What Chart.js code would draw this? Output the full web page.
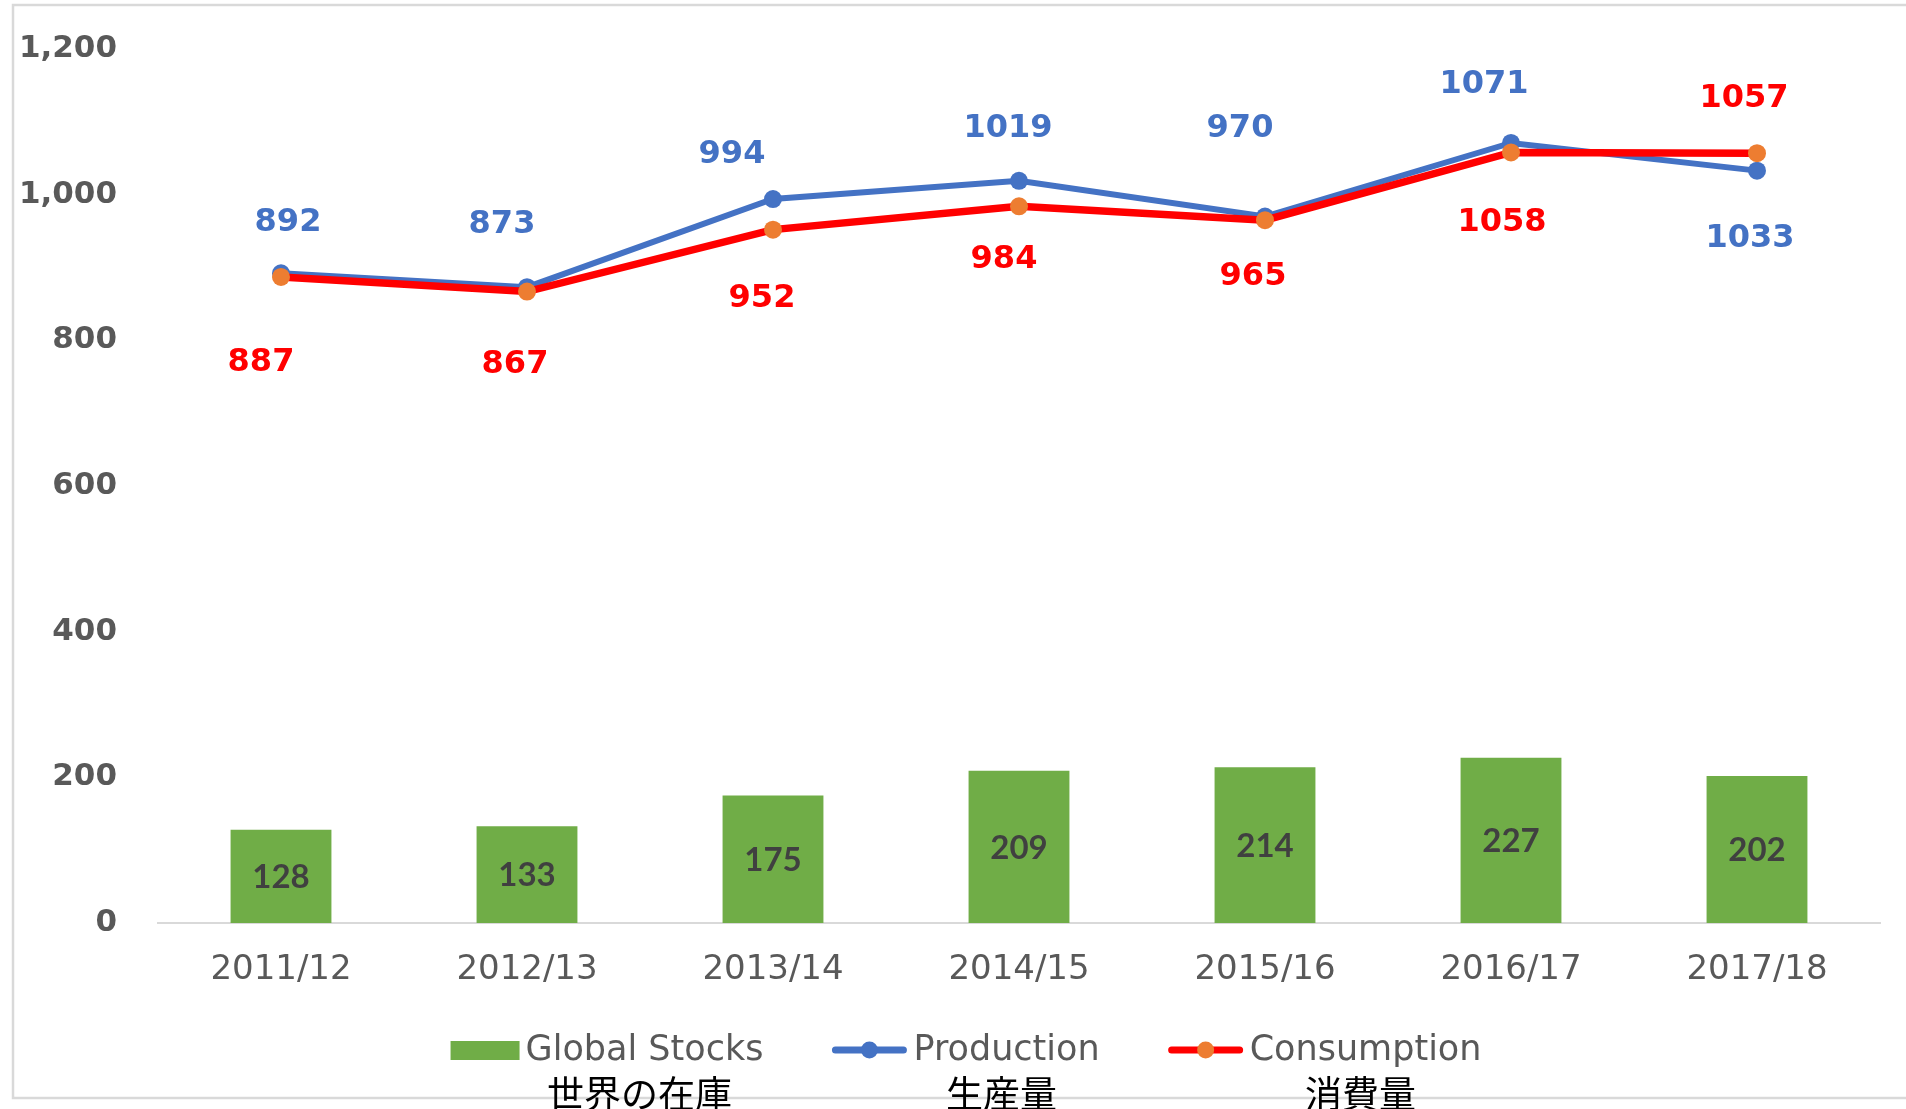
<!DOCTYPE html>
<html>
<head>
<meta charset="utf-8">
<script src="https://cdn.jsdelivr.net/npm/chart.js@4.4.0/dist/chart.umd.min.js"></script>
<style>
  html, body { margin: 0; padding: 0; background: #fff; overflow: hidden; }
  #wrap { position: relative; width: 1906px; height: 1109px; }
</style>
</head>
<body>
<div id="wrap"><canvas id="chart" width="1906" height="1109"></canvas></div>
<script>
// Data
const seasons = ['2011/12', '2012/13', '2013/14', '2014/15', '2015/16', '2016/17', '2017/18'];
const globalStocks = [128, 133, 175, 209, 214, 227, 202];
const production = [892, 873, 994, 1019, 970, 1071, 1033];
const consumption = [887, 867, 952, 984, 965, 1058, 1057];
const yTicks = [0, 200, 400, 600, 800, 1000, 1200];
const legendJa = ['世界の在庫', '生産量', '消費量'];

// label nudges in px (dx, dy) from each point, like the hand-placed labels in the original
const prodLabelShift = [[7, -51], [-25, -62], [-41, -44], [-11, -52], [-25, -88], [-27, -58], [-7, 68]];
const consLabelShift = [[-20, 86], [-12, 73], [-11, 69], [-15, 53], [-12, 57], [-9, 70], [-13, -54]];

const GRAY = '#595959';

// outer frame, drawn first so the Japanese captions sit on top of it
const framePlugin = {
    id: 'frame',
    beforeDraw(chart) {
        const ctx = chart.ctx;
        ctx.save();
        ctx.fillStyle = '#fff';
        ctx.fillRect(0, 0, chart.width, chart.height);
        ctx.strokeStyle = '#d9d9d9';
        ctx.lineWidth = 2.5;
        ctx.strokeRect(13, 5, 2000, 1093);
        ctx.restore();
    }
};

// value labels for bars and both lines
const valueLabels = {
    id: 'valueLabels',
    afterDatasetsDraw(chart) {
        const ctx = chart.ctx;
        ctx.save();
        ctx.textAlign = 'center';
        ctx.textBaseline = 'middle';

        const barMeta = chart.getDatasetMeta(0);
        ctx.font = 'bold 33px Lato';
        ctx.fillStyle = '#404040';
        barMeta.data.forEach((bar, i) => {
            ctx.fillText(globalStocks[i], bar.x, (bar.y + bar.base) / 2 + 1);
        });

        ctx.font = 'bold 32px "DejaVu Sans"';
        const prodMeta = chart.getDatasetMeta(1);
        ctx.fillStyle = '#4472c4';
        prodMeta.data.forEach((pt, i) => {
            ctx.fillText(production[i], pt.x + prodLabelShift[i][0], pt.y + prodLabelShift[i][1]);
        });

        const consMeta = chart.getDatasetMeta(2);
        ctx.fillStyle = '#ff0000';
        consMeta.data.forEach((pt, i) => {
            ctx.fillText(consumption[i], pt.x + consLabelShift[i][0], pt.y + consLabelShift[i][1]);
        });
        ctx.restore();
    }
};

// legend row plus the Japanese caption under each entry
const legendRow = {
    id: 'legendRow',
    afterDraw(chart) {
        const ctx = chart.ctx;
        const textGap = 6, itemGap = 68;
        const y = 1050;
        const legendFont = '35px "DejaVu Sans"';
        ctx.save();
        ctx.font = legendFont;
        const items = chart.data.datasets.map(ds => {
            const tw = ctx.measureText(ds.label).width;
            const sw = ds.type === 'bar' ? 69 : 76;
            return { ds, tw, sw, w: sw + textGap + tw };
        });
        const total = items.reduce((s, it) => s + it.w, 0) + itemGap * (items.length - 1);
        let x = 966 - total / 2;

        items.forEach((it, i) => {
            const ds = it.ds;
            if (ds.type === 'bar') {
                ctx.fillStyle = ds.backgroundColor;
                ctx.fillRect(x, y - 9, it.sw, 19);
            } else {
                ctx.strokeStyle = ds.borderColor;
                ctx.lineWidth = 7;
                ctx.lineCap = 'round';
                ctx.beginPath();
                ctx.moveTo(x + 4, y);
                ctx.lineTo(x + it.sw - 4, y);
                ctx.stroke();
                ctx.fillStyle = ds.pointBackgroundColor;
                ctx.beginPath();
                ctx.arc(x + it.sw / 2, y, 8.5, 0, Math.PI * 2);
                ctx.fill();
            }
            ctx.font = legendFont;
            ctx.fillStyle = GRAY;
            ctx.textAlign = 'left';
            ctx.textBaseline = 'middle';
            const tx = x + it.sw + textGap;
            ctx.fillText(ds.label, tx, y + 1);

            ctx.font = '37px "Noto Sans CJK JP"';
            ctx.fillStyle = '#000';
            ctx.textAlign = 'center';
            ctx.fillText(legendJa[i], tx + it.tw / 2 - 5, 1094);

            x += it.w + itemGap;
        });
        ctx.restore();
    }
};

new Chart(document.getElementById('chart').getContext('2d'), {
    type: 'bar',
    data: {
        labels: seasons,
        datasets: [{
            type: 'bar',
            label: 'Global Stocks',
            data: globalStocks,
            backgroundColor: '#70ad47',
            barPercentage: 0.41,
            categoryPercentage: 1,
            order: 3
        }, {
            type: 'line',
            label: 'Production',
            data: production,
            borderColor: '#4472c4',
            backgroundColor: '#4472c4',
            pointBackgroundColor: '#4472c4',
            pointBorderWidth: 0,
            pointRadius: 9,
            borderWidth: 6,
            tension: 0,
            order: 2
        }, {
            type: 'line',
            label: 'Consumption',
            data: consumption,
            borderColor: '#ff0000',
            backgroundColor: '#ff0000',
            pointBackgroundColor: '#ed7d31',
            pointBorderWidth: 0,
            pointRadius: 9,
            borderWidth: 7.5,
            tension: 0,
            order: 1
        }]
    },
    options: {
        responsive: false,
        animation: false,
        layout: { autoPadding: false, padding: { top: 49, right: 26, left: 0, bottom: 0 } },
        plugins: {
            legend: { display: false },
            tooltip: { enabled: false }
        },
        scales: {
            x: {
                grid: { display: false, drawTicks: false },
                border: { display: true, color: '#d9d9d9', width: 2 },
                ticks: {
                    color: GRAY,
                    font: { family: 'DejaVu Sans', size: 34 },
                    padding: 27,
                    maxRotation: 0
                },
                afterFit: s => { s.height = 186; }
            },
            y: {
                min: 0,
                max: 1200,
                grid: { display: false, drawTicks: false },
                border: { display: false },
                afterBuildTicks: s => { s.ticks = yTicks.map(v => ({ value: v })); },
                ticks: {
                    color: GRAY,
                    font: { family: 'DejaVu Sans', size: 31, weight: 'bold' },
                    padding: 41,
                    callback: v => v.toLocaleString('en-US')
                },
                // tick padding would otherwise push the plot top down
                afterFit: s => { s.width = 158; s.paddingTop = 0; s.paddingBottom = 0; }
            }
        }
    },
    plugins: [framePlugin, valueLabels, legendRow]
});
</script>
</body>
</html>
